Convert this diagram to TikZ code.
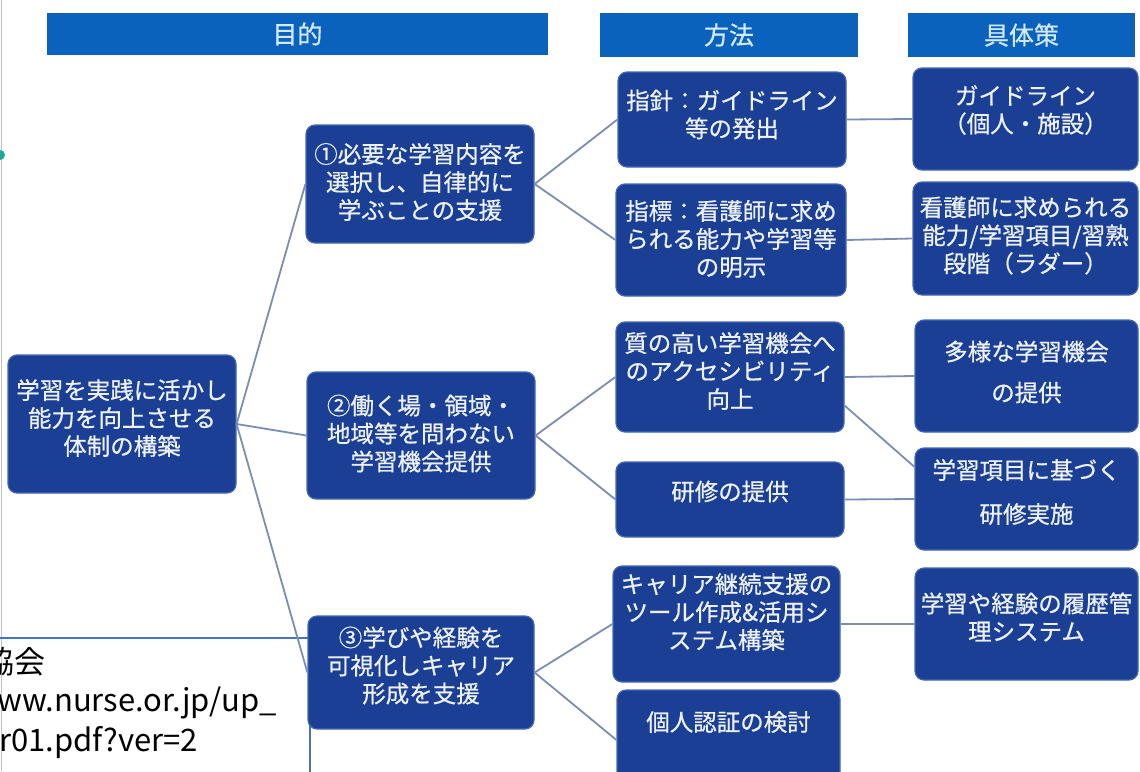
\documentclass[tikz,border=0pt]{standalone}
\usepackage{fontspec}
\setmainfont{Liberation Sans}
\newfontfamily\jp{Noto Sans CJK JP}
\newfontfamily\jpb[FakeBold=0.7]{Noto Sans CJK JP}
\usetikzlibrary{calc}
\definecolor{navy}{HTML}{1B3F95}
\definecolor{navyedge}{HTML}{4468B8}
\definecolor{hdr}{HTML}{0A62BD}
\definecolor{hdrtext}{HTML}{D2EAFF}
\definecolor{boxtext}{HTML}{ECF1FA}
\definecolor{conn}{HTML}{7C8DB3}
\definecolor{srcblue}{HTML}{4472C4}
\definecolor{tealdot}{HTML}{1AA99A}
\tikzset{
  hbox/.style={fill=hdr, draw=none, inner sep=0pt, text=hdrtext,
    font=\jpb\fontsize{25}{30}\selectfont},
  nbox/.style={fill=navy, draw=navyedge, line width=1.2pt, rounded corners=9pt, inner sep=0pt},
  ntext/.style={text=boxtext, align=center, inner sep=0pt,
    font=\jpb\fontsize{23.5}{28}\selectfont},
  link/.style={draw=conn, line width=1.8pt},
  srctext/.style={anchor=west, inner sep=0pt, text=black, font=\jp\fontsize{31}{36}\selectfont},
}
\begin{document}
\begin{tikzpicture}[x=1pt,y=-1pt]
\useasboundingbox (0,0) rectangle (1140,771);
\clip (0,0) rectangle (1140,771);
\fill[white] (0,0) rectangle (1140,771);
\draw[black!25, line width=1pt] (1,0) -- (1,771);
\fill[tealdot] (0,155) circle (5);

% source box (behind)
\draw[srcblue, line width=1.2pt] (-5,638) rectangle (310,800);
\node[srctext] (src1) at (-17,662) {協会};
\node[srctext] (src2) at (-3,703) {ww.nurse.or.jp/up\_};
\node[srctext] (src3) at (-1,742) {r01.pdf?ver=2};

% headers
\node[hbox, minimum width=501pt, minimum height=42pt] (h1) at (297.5,34) {目的};
\node[hbox, minimum width=258pt, minimum height=44pt] (h2) at (729,35) {方法};
\node[hbox, minimum width=227pt, minimum height=44pt] (h3) at (1021.5,35) {具体策};

% boxes
\node[nbox, minimum width=228pt, minimum height=138pt] (root) at (122,424) {};
\node[nbox, minimum width=228pt, minimum height=118pt] (n1) at (420,184) {};
\node[nbox, minimum width=228pt, minimum height=127pt] (n2) at (421,435.5) {};
\node[nbox, minimum width=226pt, minimum height=113pt] (n3) at (421,672.5) {};
\node[nbox, minimum width=228pt, minimum height=95pt] (m1) at (732,119.5) {};
\node[nbox, minimum width=230pt, minimum height=112pt] (m2) at (731,240) {};
\node[nbox, minimum width=228pt, minimum height=110pt] (m3) at (730,377) {};
\node[nbox, minimum width=228pt, minimum height=75pt] (m4) at (730,499.5) {};
\node[nbox, minimum width=227pt, minimum height=116pt] (m5) at (726.5,624) {};
\node[nbox, minimum width=223pt, minimum height=100pt] (m6) at (728.5,740) {};
\node[nbox, minimum width=225pt, minimum height=102pt] (s1) at (1025.5,119) {};
\node[nbox, minimum width=225pt, minimum height=113pt] (s2) at (1025.5,238.5) {};
\node[nbox, minimum width=223pt, minimum height=112pt] (s3) at (1026.5,376) {};
\node[nbox, minimum width=223pt, minimum height=102pt] (s4) at (1026.5,499) {};
\node[nbox, minimum width=223pt, minimum height=112pt] (s5) at (1026.5,624) {};

% connectors
\draw[link] (root.east) -- (n1.west);
\draw[link] (root.east) -- (n2.west);
\draw[link] (root.east) -- (n3.west);
\draw[link] (n1.east) -- (m1.west);
\draw[link] (n1.east) -- (m2.west);
\draw[link] (n2.east) -- (m3.west);
\draw[link] (n2.east) -- (m4.west);
\draw[link] (n3.east) -- (m5.west);
\draw[link] (n3.east) -- (m6.west);
\draw[link] (m1.east) -- (s1.west);
\draw[link] (m2.east) -- (s2.west);
\draw[link] (m3.east) -- (s3.west);
\draw[link] (m3.-14) -- (s4.164);
\draw[link] (m4.east) -- (s4.west);
\draw[link] (m5.east) -- (s5.west);

% texts
\node[ntext] (roott) at ($(root.center)+(0,-6)$) {学習を実践に活かし\\能力を向上させる\\体制の構築};
\node[ntext] (n1t) at ($(n1.center)+(0,-2)$) {①必要な学習内容を\\選択し、自律的に\\学ぶことの支援};
\node[ntext] (n2t) at ($(n2.center)+(0,-2)$) {②働く場・領域・\\地域等を問わない\\学習機会提供};
\node[ntext] (n3t) at ($(n3.center)+(0,-7)$) {③学びや経験を\\可視化しキャリア\\形成を支援};
\node[ntext] (m1t) at ($(m1.center)+(0,-5)$) {指針：ガイドライン\\等の発出};
\node[ntext] (m2t) at ($(m2.center)+(0,-1)$) {指標：看護師に求め\\られる能力や学習等\\の明示};
\node[ntext] (m3t) at ($(m3.center)+(0,-6)$) {質の高い学習機会へ\\のアクセシビリティ\\向上};
\node[ntext] (m4t) at ($(m4.center)+(0,-8)$) {研修の提供};
\node[ntext] (m5t) at ($(m5.center)+(0,-12)$) {キャリア継続支援の\\ツール作成\&活用シ\\ステム構築};
\node[ntext] (m6t) at ($(m6.center)+(0,-18)$) {個人認証の検討};
\node[ntext] (s1t) at ($(s1.center)+(0,-9)$) {ガイドライン\\（個人・施設）};
\node[ntext] (s2t) at ($(s2.center)+(0,-3)$) {看護師に求められる\\能力/学習項目/習熟\\段階（ラダー）};
\node[ntext] (s3t) at ($(s3.center)+(0,-4)$) {多様な学習機会\\[13pt]の提供};
\node[ntext] (s4t) at ($(s4.center)+(0,-7)$) {学習項目に基づく\\[16pt]研修実施};
\node[ntext] (s5t) at ($(s5.center)+(0,-7)$) {学習や経験の履歴管\\理システム};
\end{tikzpicture}
\end{document}
